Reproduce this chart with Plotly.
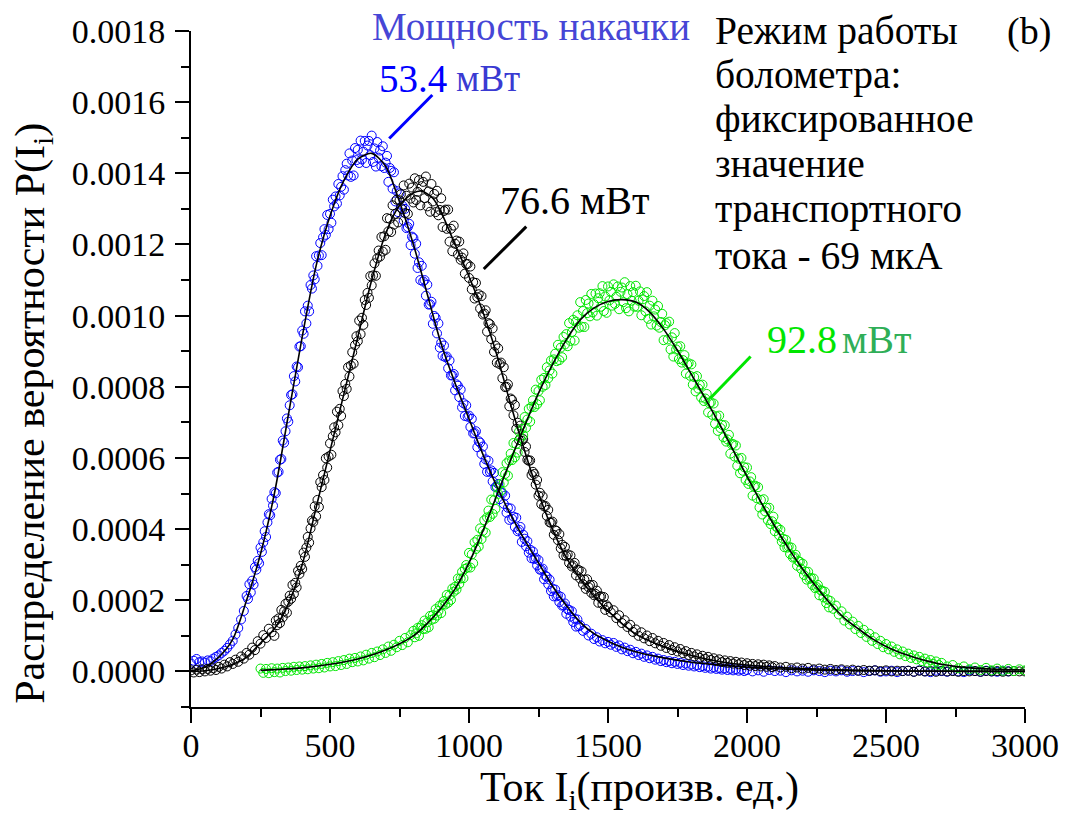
import numpy as np
import plotly.graph_objects as go

SERIF = "Liberation Serif, Times New Roman, serif"
SCALE = 1e-6  # probabilities below are stored in units of 1e-6

# ---------------- measured distributions P(I_i) ----------------
# pump power 53.4 mW
blue_x = np.r_[np.arange(0, 200, 10), np.arange(200, 1400, 5),
               np.arange(1400, 2000, 10), np.arange(2000, 2941, 20)]
blue_p = [
    22, 30, 35, 26, 28, 25, 31, 29, 36, 41, 45, 52, 58, 66, 76, 86, 104, 122, 146, 170,
    # 200 .. 1395, step 5
    212, 204, 245, 222, 255, 244, 293, 286, 311, 304, 348, 336, 363, 394, 378, 419, 442, 439, 485, 466,
    504, 501, 559, 561, 595, 597, 649, 643, 675, 711, 702, 748, 777, 779, 830, 815, 857, 855, 913, 914,
    958, 949, 1012, 978, 1028, 1012, 1086, 1076, 1113, 1102, 1167, 1140, 1169, 1204, 1170, 1220, 1243, 1227, 1283, 1243,
    1286, 1261, 1326, 1307, 1335, 1315, 1370, 1338, 1362, 1392, 1354, 1409, 1427, 1394, 1456, 1390, 1436, 1394, 1471, 1437,
    1466, 1429, 1492, 1439, 1461, 1491, 1429, 1478, 1491, 1451, 1506, 1432, 1470, 1419, 1488, 1444, 1464, 1420, 1476, 1415,
    1430, 1449, 1376, 1415, 1407, 1357, 1403, 1321, 1350, 1291, 1344, 1303, 1309, 1267, 1300, 1246, 1249, 1258, 1198, 1222,
    1218, 1174, 1202, 1134, 1150, 1100, 1140, 1096, 1100, 1056, 1087, 1031, 1032, 1039, 977, 999, 994, 950, 978, 910,
    924, 887, 916, 883, 885, 852, 874, 832, 832, 836, 790, 807, 803, 771, 792, 742, 754, 718, 748, 716,
    719, 687, 710, 669, 670, 675, 630, 647, 643, 611, 632, 583, 596, 561, 592, 561, 565, 534, 558, 518,
    520, 527, 484, 503, 501, 471, 494, 446, 460, 426, 458, 429, 435, 406, 432, 394, 398, 406, 364, 384,
    373, 352, 366, 334, 342, 318, 337, 316, 319, 298, 313, 286, 286, 289, 259, 269, 266, 245, 258, 226,
    233, 211, 230, 211, 214, 195, 210, 185, 186, 191, 162, 174, 173, 154, 169, 139, 148, 126, 146, 127,
    # 1400 .. 1990, step 10
    130, 114, 119, 101, 106, 91, 96, 84, 88, 79,
    83, 75, 80, 69, 73, 62, 67, 57, 61, 51,
    55, 46, 50, 41, 45, 37, 41, 33, 36, 29,
    32, 26, 29, 23, 27, 21, 24, 18, 22, 16,
    19, 14, 17, 12, 15, 10, 13, 8, 11, 7,
    9, 5, 8, 4, 7, 3, 6, 2, 5, 1,
    # 2000 .. 2940, step 20
    4, 0, 3, -1, 4, 1, 2, -2, 3, 0, 2, -1, 3, 1, -2, 2, 0, 3, -1, 1, 2, -2, 1, 3,
    -1, 0, 2, -2, 1, 2, -1, 3, 0, -2, 2, 1, -1, 2, 0, -2, 3, 1, -1, 2, 0, -1, 2, 0,
]

# pump power 76.6 mW
black_x = np.r_[np.arange(0, 300, 10), np.arange(300, 1500, 5),
                np.arange(1500, 2100, 10), np.arange(2100, 3001, 20)]
black_p = [
    3, -3, 5, -2, 6, 0, 7, 2, 9, 4, 13, 8, 19, 14, 26, 21, 33, 27, 42, 36,
    52, 47, 67, 60, 85, 78, 102, 94, 120, 110,
    # 300 .. 1495, step 5
    100, 143, 130, 149, 136, 173, 152, 169, 190, 165, 196, 213, 204, 243, 218, 249, 236, 283, 274, 297,
    288, 334, 322, 348, 378, 362, 402, 424, 420, 464, 436, 482, 462, 532, 518, 552, 538, 599, 573, 604,
    641, 609, 661, 686, 672, 730, 692, 738, 718, 788, 774, 808, 794, 855, 829, 860, 897, 865, 917, 942,
    928, 986, 948, 994, 974, 1044, 1030, 1064, 1050, 1111, 1085, 1113, 1147, 1112, 1161, 1183, 1166, 1221, 1180, 1223,
    1185, 1274, 1237, 1272, 1235, 1310, 1256, 1286, 1326, 1262, 1324, 1341, 1299, 1366, 1288, 1337, 1286, 1371, 1329, 1360,
    1318, 1386, 1325, 1348, 1381, 1310, 1364, 1376, 1330, 1391, 1307, 1349, 1292, 1370, 1321, 1342, 1291, 1351, 1282, 1297,
    1330, 1249, 1294, 1298, 1244, 1298, 1208, 1244, 1181, 1253, 1202, 1211, 1172, 1208, 1157, 1163, 1175, 1118, 1145, 1145,
    1106, 1138, 1074, 1094, 1048, 1092, 1052, 1060, 1020, 1055, 1003, 1006, 1015, 955, 979, 976, 934, 964, 898, 916,
    868, 908, 864, 868, 824, 855, 799, 800, 807, 745, 767, 763, 720, 749, 682, 699, 650, 691, 648, 653,
    617, 632, 595, 592, 593, 552, 561, 555, 525, 538, 494, 502, 470, 492, 464, 465, 437, 454, 419, 418,
    421, 384, 397, 395, 369, 386, 346, 356, 326, 350, 324, 329, 305, 326, 295, 298, 305, 270, 285, 285,
    261, 281, 245, 258, 232, 259, 237, 243, 221, 243, 214, 218, 227, 193, 210, 211, 189, 209, 173, 186,
    # 1500 .. 2090, step 10
    181, 166, 172, 150, 158, 136, 144, 125, 131, 111,
    118, 100, 110, 93, 101, 85, 94, 79, 86, 72,
    80, 66, 74, 60, 68, 56, 63, 51, 57, 46,
    52, 42, 48, 38, 44, 35, 41, 32, 37, 29,
    34, 26, 31, 24, 29, 22, 27, 20, 25, 18,
    23, 16, 21, 15, 20, 14, 19, 13, 17, 12,
    # 2100 .. 3000, step 20
    15, 11, 13, 9, 11, 8, 10, 6, 8, 5, 7, 4, 6, 3, 5, 2, 4, 2, 3, 1, 3, 0, 2,
    1, 2, -1, 2, 0, 1, -1, 2, 0, 1, -1, 1, 0, 1, -1, 1, 0, 1, -1, 0, 1, 0, 0,
]

# pump power 92.8 mW
green_x = np.r_[np.arange(250, 800, 10), np.arange(800, 2300, 5),
                np.arange(2300, 2700, 10), np.arange(2700, 3001, 20)]
green_p = [
    8, -4, 7, -5, 9, -2, 8, -3, 10, 1,
    11, 2, 13, 4, 14, 5, 15, 6, 17, 8,
    19, 9, 21, 11, 24, 14, 26, 15, 29, 18,
    32, 21, 36, 26, 38, 28, 42, 31, 47, 36,
    52, 40, 56, 46, 62, 52, 70, 58, 75, 68,
    86, 74, 94, 82, 102,
    # 800 .. 2295, step 5
    114, 96, 107, 122, 100, 123, 130, 119, 143, 120, 138, 124, 156, 145, 158, 148, 175, 157, 170, 185,
    164, 188, 198, 188, 215, 193, 213, 201, 233, 224, 238, 230, 261, 246, 261, 280, 262, 288, 299, 292,
    333, 292, 329, 304, 363, 344, 370, 351, 402, 372, 395, 425, 390, 433, 452, 434, 483, 443, 481, 457,
    517, 499, 526, 508, 560, 531, 555, 585, 550, 593, 612, 594, 642, 602, 639, 615, 674, 656, 682, 664,
    715, 685, 708, 738, 702, 744, 762, 743, 792, 751, 788, 762, 820, 800, 825, 805, 855, 824, 846, 874,
    837, 877, 893, 872, 918, 875, 910, 883, 940, 919, 948, 914, 979, 929, 954, 988, 930, 983, 1001, 966,
    1038, 969, 1013, 968, 1044, 1007, 1034, 998, 1061, 1009, 1032, 1062, 1000, 1049, 1063, 1025, 1083, 1013, 1054, 1008,
    1082, 1043, 1067, 1028, 1088, 1033, 1053, 1082, 1018, 1067, 1079, 1038, 1094, 1021, 1060, 1012, 1083, 1042, 1066, 1025,
    1084, 1025, 1042, 1068, 1001, 1046, 1055, 1012, 1066, 991, 1028, 975, 1042, 998, 1017, 972, 1027, 966, 982, 1005,
    931, 973, 979, 933, 983, 905, 939, 885, 951, 905, 913, 878, 914, 868, 875, 889, 837, 863, 866, 831,
    863, 806, 827, 787, 830, 795, 805, 770, 806, 760, 767, 780, 728, 754, 756, 721, 753, 696, 717, 676,
    719, 684, 693, 658, 692, 646, 652, 665, 612, 638, 639, 604, 635, 578, 598, 557, 600, 564, 574, 538,
    573, 527, 534, 546, 494, 520, 522, 487, 518, 461, 482, 441, 484, 450, 460, 425, 460, 414, 422, 435,
    394, 407, 404, 383, 398, 365, 373, 349, 370, 348, 351, 330, 348, 320, 322, 328, 297, 310, 308, 288,
    303, 271, 281, 258, 280, 260, 263, 243, 261, 234, 237, 243, 214, 228, 227, 208, 224, 192, 202, 180,
    # 2300 .. 2690, step 10
    198, 176, 185, 160, 169, 143, 154, 132, 140, 119,
    128, 108, 117, 97, 106, 86, 96, 77, 86, 68,
    77, 62, 70, 55, 62, 48, 56, 43, 50, 38,
    45, 34, 41, 29, 36, 25, 32, 21, 28, 18,
    # 2700 .. 3000, step 20
    24, 14, 18, 9, 14, 6, 11, 4, 10, 3, 8, 2, 7, 1, 6, 3,
]

# ---------------- fitted curves ----------------
blue_fit_x = [0, 50, 100, 150, 200, 250, 300, 350, 400, 450, 500, 550, 600, 650, 700, 750, 800, 850,
              900, 950, 1000, 1050, 1100, 1150, 1200, 1250, 1300, 1350, 1400, 1450, 1500, 1550, 1600,
              1700, 1800, 1900, 2000, 2200, 2500, 2950]
blue_fit_p = [2, 12, 40, 90, 200, 330, 500, 720, 940, 1140, 1280, 1380, 1440, 1456, 1420, 1320, 1200, 1060,
              920, 810, 710, 610, 520, 440, 370, 305, 240, 185, 138, 106, 85, 68, 55,
              38, 26, 18, 12, 5, 1, 0]

black_fit_x = [0, 50, 100, 150, 200, 250, 300, 350, 400, 450, 500, 550, 600, 650, 700, 750, 800, 830,
               870, 900, 950, 1000, 1050, 1100, 1150, 1200, 1250, 1300, 1350, 1400, 1500, 1600, 1700,
               1800, 1900, 2000, 2200, 2500, 3000]
black_fit_p = [0, 2, 8, 20, 40, 80, 120, 190, 300, 460, 620, 780, 940, 1100, 1230, 1310, 1345, 1350,
               1330, 1290, 1200, 1110, 1010, 890, 750, 620, 500, 400, 320, 260, 170, 105, 70,
               45, 28, 18, 8, 2, 0]

green_fit_x = [250, 300, 400, 500, 600, 700, 800, 850, 900, 950, 1000, 1050, 1100, 1150, 1200, 1250,
               1300, 1350, 1400, 1450, 1500, 1550, 1600, 1650, 1700, 1750, 1800, 1850, 1900, 1950,
               2000, 2050, 2100, 2150, 2200, 2250, 2300, 2350, 2400, 2450, 2500, 2550, 2600, 2650,
               2700, 2800, 2900, 3000]
green_fit_p = [3, 5, 10, 20, 35, 60, 100, 135, 178, 232, 305, 395, 495, 595, 690, 782,
               862, 932, 988, 1022, 1040, 1045, 1038, 1010, 962, 902, 835, 767, 697, 622,
               548, 476, 408, 345, 288, 237, 190, 150, 120, 92, 70, 53, 40, 29,
               20, 10, 6, 4]

series = [
    (blue_x, blue_p, "#0000ff"),
    (black_x, black_p, "#000000"),
    (green_x, green_p, "#00e600"),
]
fits = [(blue_fit_x, blue_fit_p), (black_fit_x, black_fit_p), (green_fit_x, green_fit_p)]

fig = go.Figure()
for x, p, color in series:
    if len(x) != len(p):
        raise ValueError(f"length mismatch {len(x)} vs {len(p)}")
    fig.add_trace(go.Scatter(
        x=x, y=np.asarray(p) * SCALE, mode="markers",
        marker=dict(symbol="circle-open", size=9, color=color, line=dict(width=1, color=color)),
        showlegend=False, hoverinfo="skip"))
for x, p in fits:
    fig.add_trace(go.Scatter(
        x=x, y=np.asarray(p) * SCALE, mode="lines",
        line=dict(color="black", width=1.6, shape="spline", smoothing=0.8),
        showlegend=False, hoverinfo="skip"))

# ---------------- layout geometry (pixels) ----------------
W, H = 1071, 819
L, R, T, B = 191, 42, 31, 112
PW, PH = W - L - R, H - T - B


def px_x(x):
    return (x - L) / PW


def px_y(y):
    return (H - B - y) / PH


def label(text, x, baseline, size, color="black", anchor="left", angle=0):
    return dict(text=text, xref="paper", yref="paper", x=px_x(x), y=px_y(baseline - 0.3 * size),
                xanchor=anchor, yanchor="middle", showarrow=False, textangle=angle,
                font=dict(family=SERIF, size=size, color=color))


annotations = [
    label("Мощность накачки", 371, 39, 39, "#4646d6"),
    label("53.4", 378, 90, 39, "#0000ff"),
    label("мВт", 455, 90, 37, "#3a3ad2"),
    label("76.6 мВт", 499, 213, 40, "black"),
    label("92.8", 768, 352, 40, "#00e600"),
    label("мВт", 843, 352, 40, "#2fae57"),
    label("(b)", 1009, 43, 38, "black"),
    label("Режим работы", 716, 43, 39.5),
    label("болометра:", 716, 87, 39.5),
    label("фиксированное", 716, 131, 39.5),
    label("значение", 716, 176, 39.5),
    label("транспортного", 716, 221, 39.5),
    label("тока - 69 мкА", 716, 268, 39.5),
    label("Ток I<sub>i</sub>(произв. ед.)", 642, 803, 42, anchor="center"),
    dict(text="Распределение вероятности P(I<sub>i</sub>)", xref="paper", yref="paper",
         x=px_x(32), y=px_y(413), xanchor="center", yanchor="middle", showarrow=False,
         textangle=-90, font=dict(family=SERIF, size=42, color="black")),
]

# leader lines from the labels to the curves (data coordinates)
leaders = [
    ((713, 0.001498), (868, 0.00162), "#0000ff"),
    ((1053, 0.001131), (1206, 0.00125), "#000000"),
    ((1868, 0.000768), (2013, 0.000885), "#00e600"),
]
shapes = [dict(type="line", xref="x", yref="y", x0=a[0], y0=a[1], x1=b[0], y1=b[1],
               line=dict(color=c, width=3)) for a, b, c in leaders]

axis_common = dict(
    showline=True, linecolor="black", linewidth=2, mirror=False,
    ticks="outside", ticklen=14, tickwidth=2, tickcolor="black",
    showgrid=False, zeroline=False,
    tickfont=dict(family=SERIF, size=34, color="black"),
)

fig.update_layout(
    width=W, height=H,
    margin=dict(l=L, r=R, t=T, b=B),
    paper_bgcolor="white", plot_bgcolor="white",
    xaxis=dict(range=[0, 3000], tick0=0, dtick=500,
               minor=dict(ticks="outside", ticklen=8, tickwidth=2, tickcolor="black", dtick=250, showgrid=False),
               ticklabelstandoff=-7, **axis_common),
    yaxis=dict(range=[-0.0001, 0.0018], tick0=0, dtick=0.0002, tickformat=".4f",
               minor=dict(ticks="outside", ticklen=8, tickwidth=2, tickcolor="black", dtick=0.0001, showgrid=False),
               ticklabelstandoff=3, **axis_common),
    annotations=annotations,
    shapes=shapes,
    showlegend=False,
)

fig.write_html("out.html")
